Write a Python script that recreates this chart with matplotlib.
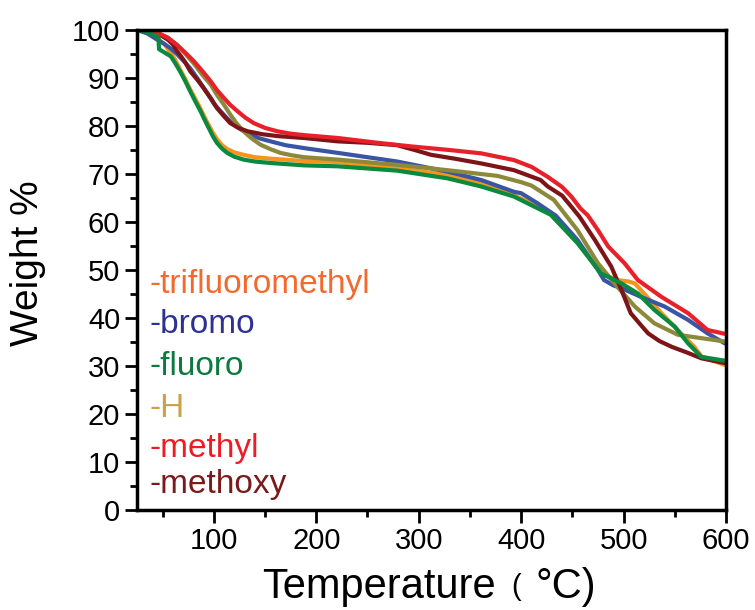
import matplotlib
matplotlib.use('Agg')
import matplotlib.pyplot as plt
from matplotlib.ticker import MultipleLocator

plt.rcParams['font.family'] = ['Liberation Sans', 'DejaVu Sans']

t_trifluoro = [25, 35, 45, 52, 58, 62, 67, 72, 77, 82, 87, 91, 95, 99, 103, 108, 113, 120, 129,
               140, 155, 188, 220, 279, 328, 361, 393, 426, 455, 478, 494, 505, 511, 520, 537,
               556, 569, 576, 599]
w_trifluoro = [100, 99.4, 98.2, 97, 95.2, 93.9, 91.8, 89.8, 87.6, 85.6, 83.6, 81.8, 80.2, 78.6,
               77.3, 76.0, 75.2, 74.5, 74.0, 73.5, 73.2, 72.7, 72.5, 71.2, 69.8, 68.1, 65.6,
               62.2, 55.8, 49.3, 47.9, 47.6, 47.2, 45.1, 41.0, 36.8, 34.0, 32.0, 30.2]

t_bromo = [25, 35, 44.6, 51, 57.6, 64, 70.7, 77, 83.7, 90, 96.7, 101, 106.5, 113, 119.6, 127,
           136, 145, 155.4, 170, 188, 221, 279, 328, 361, 393, 400, 416, 434, 455, 475, 481,
           490, 498, 517, 540, 563, 582, 599]
w_bromo = [100, 99.3, 98, 97.2, 96.2, 95.0, 93.5, 92.0, 90, 88, 85.8, 84.4, 83.1, 81.6, 80.3,
           79.2, 78.2, 77.4, 76.8, 76.0, 75.4, 74.4, 72.6, 70.5, 68.75, 66.3, 66.0, 63.9, 61.3,
           56.25, 50, 47.9, 46.8, 46.2, 44.4, 42.4, 39.6, 36.8, 34.7]

t_fluoro = [25, 35, 44, 46, 46.5, 52, 58, 62, 67, 72, 77, 82, 87, 91, 95, 99, 103, 108, 113,
            120, 129, 140, 155, 188, 221, 279, 328, 361, 393, 429, 455, 478, 498, 514, 530,
            550, 563, 576, 599]
w_fluoro = [100, 99.6, 98.7, 98.4, 96.0, 95.3, 94.5, 93.2, 91.4, 89.4, 87.2, 85.1, 83.1, 81.3,
            79.6, 77.9, 76.5, 75.3, 74.4, 73.6, 73.0, 72.6, 72.3, 71.8, 71.6, 70.7, 69.1, 67.4,
            65.3, 61.5, 55.6, 49.3, 47.2, 45.1, 41.7, 38.2, 34.7, 31.9, 31.1]

t_h = [25, 35, 45, 55, 64, 72, 80.5, 89, 97, 103, 110, 116, 122, 129, 137, 145.6, 155, 165,
       176, 188, 221, 279, 328, 377, 400, 410, 432, 455, 475, 494, 511, 530, 553, 576, 599]
w_h = [100, 99.9, 99.4, 98.4, 96.9, 95.1, 93.0, 90.6, 88.6, 86.5, 84.4, 82.4, 80.6, 78.9, 77.4,
       76.1, 75.2, 74.4, 73.9, 73.5, 73.0, 71.9, 70.8, 69.6, 68.3, 67.6, 64.6, 58.3, 51.4,
       46.5, 42.4, 38.9, 36.5, 35.8, 35.1]

t_metil = [25, 35, 45, 55, 64, 72, 80.5, 89, 97, 103, 110, 116, 123, 131, 139, 150, 162, 175,
           188, 221, 260, 295, 330, 361, 393, 410, 426, 440, 449, 458, 465, 475, 485, 501, 514,
           537, 563, 582, 599]
w_metil = [100, 99.9, 99.4, 98.4, 96.9, 95.3, 93.5, 91.4, 89.3, 87.5, 85.8, 84.4, 83.1, 81.7,
           80.6, 79.6, 78.9, 78.4, 78.1, 77.5, 76.5, 75.7, 75.0, 74.3, 72.9, 71.5, 69.4, 67.3,
           65.3, 62.8, 61.4, 58.3, 54.9, 51.4, 47.9, 44.4, 41.0, 37.5, 36.7]

t_metoxi = [25, 35, 45, 55, 60, 64, 68, 72, 77, 84, 90, 97, 103, 110, 116, 124, 133, 147, 162,
            188, 221, 250, 279, 296, 312, 335, 361, 393, 419, 426, 440, 449, 457, 472, 488,
            498, 507, 517, 524, 535, 547, 562, 576, 599]
w_metoxi = [100, 99.9, 99.3, 98, 97, 95.6, 94.5, 93.3, 91.4, 89.6, 87.9, 85.8, 83.75, 82.0,
            80.6, 79.6, 78.9, 78.3, 77.9, 77.5, 76.8, 76.5, 76.0, 75.0, 74.0, 73.2, 72.2, 70.8,
            68.75, 67.4, 65.5, 63.2, 61.1, 56.25, 50.7, 45.8, 41.0, 38.5, 36.8, 35.2, 34.0,
            32.8, 31.6, 30.6]

etiquetas = ['-trifluoromethyl', '-bromo', '-fluoro', '-H', '-methyl', '-methoxy']
colores_linea = ['#F7941D', '#3B55A5', '#0A8A3E', '#8C8A3A', '#E8202A', '#7D1518']
colores_texto = ['#F26A2E', '#2E3192', '#0B7A3E', '#C9A24D', '#ED1C24', '#7A1A1A']

series = [(t_trifluoro, w_trifluoro), (t_bromo, w_bromo), (t_fluoro, w_fluoro),
          (t_h, w_h), (t_metil, w_metil), (t_metoxi, w_metoxi)]

fig = plt.figure(figsize=(7.55, 6.1), dpi=100)
ax = fig.add_axes([137 / 755, 1 - 510 / 610, (726 - 137) / 755, (510 - 30) / 610])

# orden de dibujo: el verde queda por encima del naranja al principio
for i in [0, 1, 3, 5, 4, 2]:
    t, w = series[i]
    ax.plot(t, w, color=colores_linea[i], lw=3, solid_joinstyle='round',
            solid_capstyle='round')

ax.set_xlim(25, 600)
ax.set_ylim(0, 100)
ax.set_xticks([100, 200, 300, 400, 500, 600])
ax.xaxis.set_minor_locator(MultipleLocator(50))
ax.yaxis.set_major_locator(MultipleLocator(10))
ax.yaxis.set_minor_locator(MultipleLocator(5))

for s in ax.spines.values():
    s.set_linewidth(2.5)
ax.tick_params(which='major', direction='out', length=9, width=2, labelsize=21, pad=3)
ax.tick_params(which='minor', direction='out', length=5, width=2)

# textos de la leyenda
y_base = [0.452, 0.369, 0.281, 0.194, 0.110, 0.035]
for texto, c, yb in zip(etiquetas, colores_texto, y_base):
    ax.text(0.022, yb, texto, color=c, fontsize=24, transform=ax.transAxes,
            ha='left', va='baseline')

fig.text(28 / 755, 1 - 263 / 610, 'Weight %', rotation=90, fontsize=28,
         ha='center', va='center')

# etiqueta del eje x: el parentesis de apertura es mas pequeño en el original
yb = 1 - 598 / 610
fig.text(262 / 755, yb, 'Temperature', fontsize=30, ha='left', va='baseline')
fig.text(511 / 755, 1 - 595 / 610, '(', fontsize=21, ha='left', va='baseline')
fig.text(535 / 755, yb, '\u00b0C)', fontsize=30, ha='left', va='baseline')

plt.savefig('out.png', dpi=100)
plt.close(fig)
